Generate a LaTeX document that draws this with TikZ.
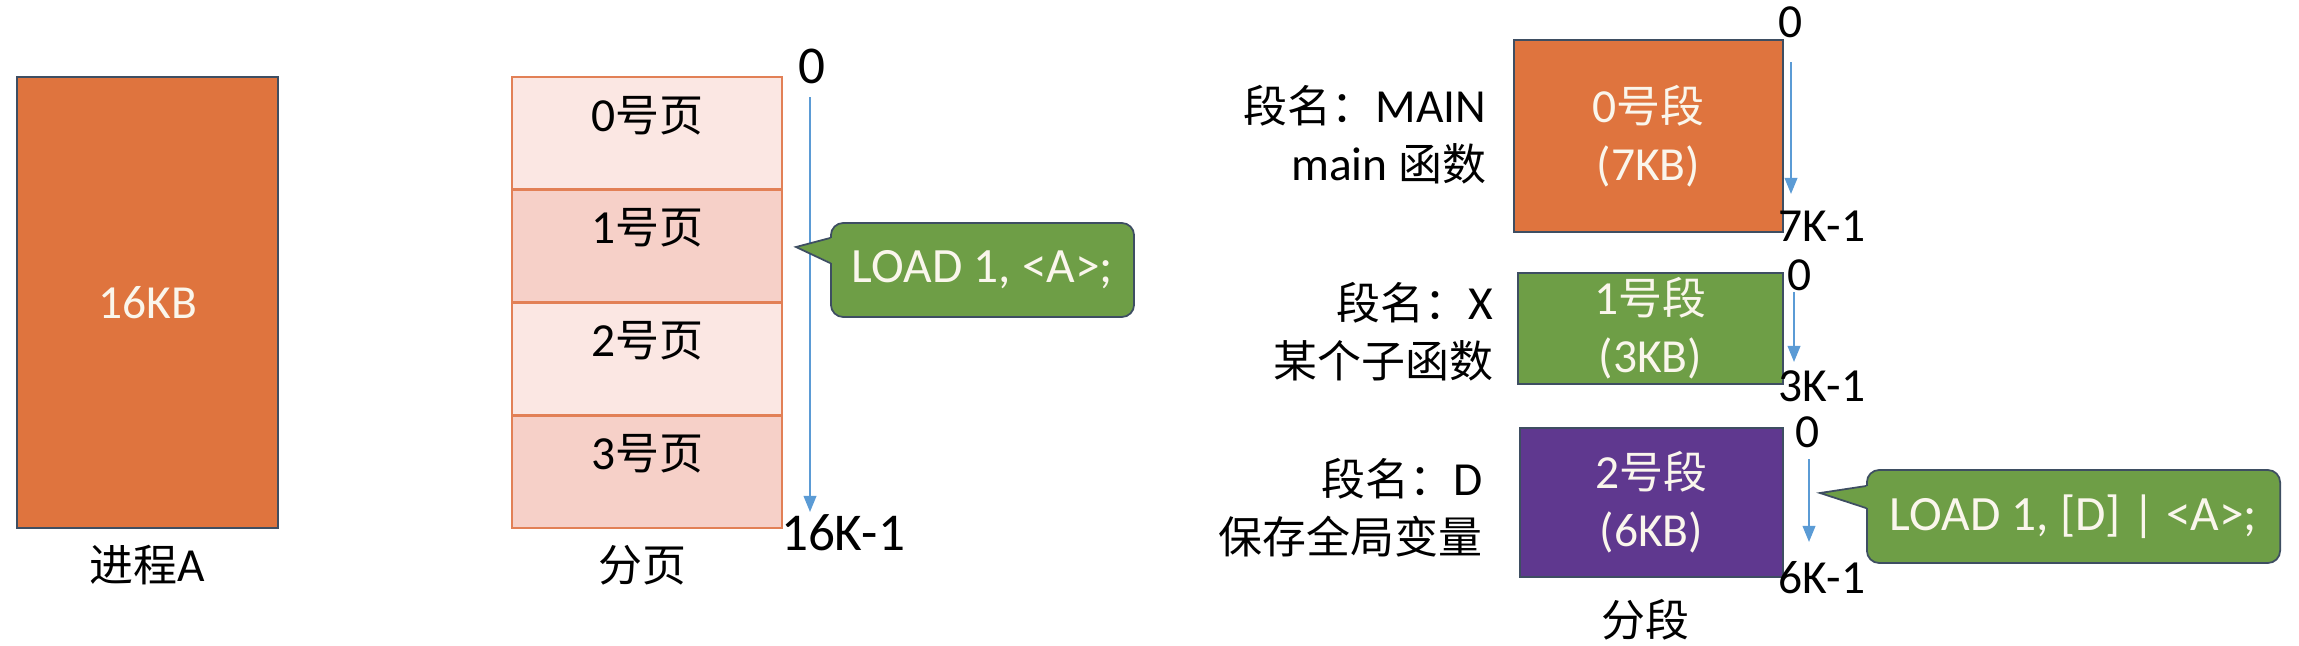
\documentclass[tikz,border=0pt]{standalone}
\usepackage{fontspec}
\setmainfont{Carlito}[Scale=1.08]
\newfontfamily\cjk{Noto Sans CJK SC}
\usetikzlibrary{
    arrows.meta,
    positioning,
    calc
}
\definecolor{pgOrange}{RGB}{223,116,62}
\definecolor{pgGreen}{RGB}{110,158,70}
\definecolor{pgPurple}{RGB}{95,56,143}
\definecolor{pgLight}{RGB}{251,231,227}
\definecolor{pgDark}{RGB}{246,208,200}
\definecolor{pgEdge}{RGB}{226,128,86}
\definecolor{pgBlue}{RGB}{91,155,213}
\definecolor{pgCream}{RGB}{250,246,236}
\definecolor{pgLine}{RGB}{62,78,98}
\tikzset{
  procbox/.style = {draw=pgLine, line width=0.5pt, fill=pgOrange, text=pgCream,
                    minimum width=2.61cm, minimum height=4.51cm},
  pagebox/.style = {draw=pgEdge, line width=0.8pt, inner sep=0pt,
                    minimum width=2.70cm, minimum height=1.1275cm,
                    text height=0.54cm, text depth=0.5875cm},
  segbox/.style  = {draw=pgLine, line width=0.5pt, text=pgCream, align=center,
                    inner sep=0pt},
  seglbl/.style  = {anchor=east, align=right, inner sep=0pt},
  addr/.style    = {inner sep=0.5pt},
  axis/.style    = {-{Triangle[length=4.6pt,width=3.6pt]}, line width=0.6pt, pgBlue},
  callbox/.style = {draw=pgLine, line width=0.5pt, fill=pgGreen, rounded corners=3.5pt,
                    text=pgCream, inner sep=0pt, font=\fontsize{13}{16}\selectfont},
  callline/.style = {draw=pgLine, line width=0.5pt, line join=miter}
}

\begin{document}
\begin{tikzpicture}[x=0.01cm, y=-0.01cm, font=\fontsize{12.5}{16.5}\selectfont]
  \useasboundingbox (0,0) rectangle (2299,645);

  % process A
  \node[procbox] (proc) at (147.5,302.5) {16KB};
  \node (proclbl) at (147.5,565) {{\cjk 进程}A};

  % paging
  \foreach \i/\c in {0/pgLight,1/pgDark,2/pgLight,3/pgDark}
    \node[pagebox, fill=\c] (pg\i) at (647,133.375+112.75*\i) {\i{\cjk 号页}};
  \node (pglbl) at (642,565) {\cjk 分页};

  \node[addr, font=\fontsize{14}{17}\selectfont] (pgzero) at (812,66) {0};
  \node[addr, font=\fontsize{14}{17}\selectfont] (pgend) at (843,533) {16K-1};
  \coordinate (pga) at (810,97);
  \coordinate (pgb) at (810,512);
  \draw[axis] (pga) -- (pgb);

  \node[callbox, minimum width=3.03cm, minimum height=0.94cm] (cl1) at (982.5,270)
       {LOAD 1, <A>;};
  \coordinate (cl1tip) at (796,247);
  \fill[pgGreen] ($(cl1.west)+(2,-32)$) -- (cl1tip) -- ($(cl1.west)+(2,-7)$) -- cycle;
  \draw[callline] ($(cl1.west)+(0,-32)$) -- (cl1tip) -- ($(cl1.west)+(0,-7)$);

  % segmentation
  \node[segbox, fill=pgOrange, minimum width=2.69cm, minimum height=1.92cm] (seg0)
       at (1648.5,136) {0{\cjk 号段}\\(7KB)};
  \node[segbox, fill=pgGreen, minimum width=2.65cm, minimum height=1.11cm] (seg1)
       at (1650.5,328.5) {1{\cjk 号段}\\(3KB)};
  \node[segbox, fill=pgPurple, minimum width=2.63cm, minimum height=1.49cm] (seg2)
       at (1651.5,502.5) {2{\cjk 号段}\\(6KB)};

  \node[seglbl] (seg0lbl) at (1487,135) {{\cjk 段名：}MAIN\\main {\cjk 函数}};
  \node[seglbl] (seg1lbl) at (1494,332) {{\cjk 段名：}X\\{\cjk 某个子函数}};
  \node[seglbl] (seg2lbl) at (1483,508) {{\cjk 段名：}D\\{\cjk 保存全局变量}};
  \node (seglbl) at (1645,620) {\cjk 分段};

  \node[addr] (s0zero) at (1791,22) {0};
  \node[addr] (s0end) at (1822,226) {7K-1};
  \node[addr] (s1zero) at (1800,275) {0};
  \node[addr] (s1end) at (1822,386) {3K-1};
  \node[addr] (s2zero) at (1808,432) {0};
  \node[addr] (s2end) at (1822,578) {6K-1};
  \coordinate (s0a) at (1791,62);
  \coordinate (s0b) at (1791,194);
  \coordinate (s1a) at (1794,292);
  \coordinate (s1b) at (1794,362);
  \coordinate (s2a) at (1809,459);
  \coordinate (s2b) at (1809,542);
  \draw[axis] (s0a) -- (s0b);
  \draw[axis] (s1a) -- (s1b);
  \draw[axis] (s2a) -- (s2b);

  \node[callbox, minimum width=4.13cm, minimum height=0.93cm] (cl2) at (2073.5,516.5)
       {LOAD 1, [D] | <A>;};
  \coordinate (cl2tip) at (1820,493);
  \fill[pgGreen] ($(cl2.west)+(2,-30.5)$) -- (cl2tip) -- ($(cl2.west)+(2,-8.5)$) -- cycle;
  \draw[callline] ($(cl2.west)+(0,-30.5)$) -- (cl2tip) -- ($(cl2.west)+(0,-8.5)$);
\end{tikzpicture}
\end{document}
